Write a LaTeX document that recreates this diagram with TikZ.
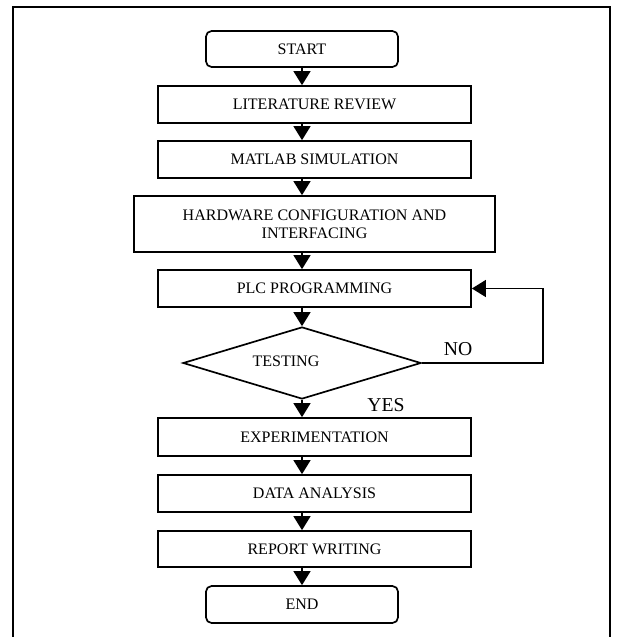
\documentclass[tikz,border=0pt]{standalone}
\usepackage{fontspec}
\setmainfont{Liberation Serif}
\usetikzlibrary{arrows.meta}
\usetikzlibrary{shapes.geometric}

\begin{document}
\begin{tikzpicture}[x=0.025cm,y=-0.025cm,
  font=\fontsize{11.4}{12.5}\selectfont,
  box/.style={draw,line width=1.2pt,minimum width=7.825cm,minimum height=0.925cm,inner sep=0pt,align=center},
  term/.style={draw,line width=1.2pt,rounded corners=0.14cm,minimum width=4.8cm,minimum height=0.9cm,inner sep=0pt},
  flow/.style={line width=0.9pt,-{Triangle[width=0.425cm,length=0.35cm]}},
  answer/.style={font=\fontsize{14}{16}\selectfont}]

\useasboundingbox (0,0) rectangle (621,637);
\draw[line width=1.2pt] (13,637) -- (13,7) -- (610,7) -- (610,637);

\coordinate (axis) at (302,0);
\coordinate (loop) at (543,0);

\node[term] (start) at (302,49) {START};
\node[box] (lit) at (314.5,104.5) {LITERATURE REVIEW};
\node[box] (matlab) at (314.5,159.5) {MATLAB SIMULATION};
\node[box,minimum width=9.025cm,minimum height=1.4cm] (hw) at (314.5,224) {HARDWARE CONFIGURATION AND\\INTERFACING};
\node[box] (plc) at (314.5,288.5) {PLC PROGRAMMING};
\node[draw,diamond,line width=1.2pt,minimum width=5.95cm,minimum height=1.8cm,inner sep=0pt] (test) at (302,363) {};
\node (testlbl) at (286,361) {TESTING};
\node[box,minimum height=0.95cm] (exp) at (314.5,437) {EXPERIMENTATION};
\node[box] (data) at (314.5,493.5) {DATA ANALYSIS};
\node[box,minimum height=0.9cm] (report) at (314.5,549) {REPORT WRITING};
\node[term,minimum height=0.925cm] (end) at (302,604.5) {END};

\draw[flow] (start.south) -- (start.south |- lit.north);
\draw[flow] (lit.south -| axis) -- (matlab.north -| axis);
\draw[flow] (matlab.south -| axis) -- (hw.north -| axis);
\draw[flow] (hw.south -| axis) -- (plc.north -| axis);
\draw[flow] (plc.south -| axis) -- (test.north);
\draw[flow] (test.south) -- (exp.north -| axis);
\draw[flow] (exp.south -| axis) -- (data.north -| axis);
\draw[flow] (data.south -| axis) -- (report.north -| axis);
\draw[flow] (report.south -| axis) -- (end.north);

\draw[flow] (test.east) -- (test.east -| loop) -- (plc.east -| loop) -- (plc.east);

\node[answer] (no) at (458,349) {NO};
\node[answer] (yes) at (386,405) {YES};

\end{tikzpicture}
\end{document}
